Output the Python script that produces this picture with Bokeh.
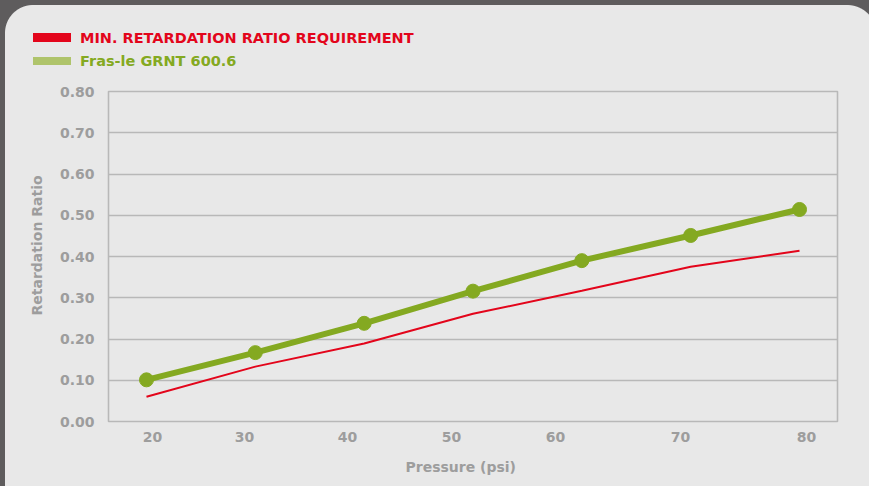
from bokeh.plotting import figure
from bokeh.layouts import column
from bokeh.embed import file_html
from bokeh.resources import INLINE
from bokeh.models import (Range1d, FixedTicker, NumeralTickFormatter, Title, Div,
                          GlobalInlineStyleSheet)

# ---- data ----
pressure = [20, 30, 40, 50, 60, 70, 80]
min_requirement = [0.060, 0.133, 0.189, 0.261, 0.317, 0.375, 0.414]
fras_le = [0.101, 0.167, 0.238, 0.316, 0.390, 0.451, 0.514]
x_tick_labels = ["20", "30", "40", "50", "60", "70", "80"]
y_ticks = [0.0, 0.1, 0.2, 0.3, 0.4, 0.5, 0.6, 0.7, 0.8]
series_names = ["MIN. RETARDATION RATIO REQUIREMENT", "Fras-le GRNT 600.6"]
x_title = "Pressure (psi)"
y_title = "Retardation Ratio"

# ---- style ----
DARK = "#5e5c5d"
LIGHT = "#e8e8e8"
RED = "#e3051b"
GREEN = "#84a921"
GREEN_LIGHT = "#afc46b"
GREY_TXT = "#9d9d9d"
GRID = "#b8b8b8"
FONT = "DejaVu Sans"

# label positions along x (as drawn in the original graphic)
x_tick_pos = [20.55, 29.0, 38.47, 48.03, 57.58, 69.07, 80.64]

css = f"""
body {{
  background:
    radial-gradient(circle at 28px 28px, transparent 27.5px, {DARK} 28.5px) 5px 5px / 28px 28px no-repeat,
    radial-gradient(circle at 0px 30px, transparent 29.5px, {DARK} 30.5px) 847px 5px / 30px 30px no-repeat,
    linear-gradient({DARK} 5px, transparent 5px) 0 0 / 100% 100% no-repeat,
    linear-gradient(to right, {DARK} 5px, {LIGHT} 5px) 0 0 / 100% 100% no-repeat;
}}
"""

# ---------- legend strip ----------
LEG_H = 80
legend_rows = [(series_names[0], RED, RED, 33, 9, 29),
               (series_names[1], GREEN, GREEN_LIGHT, 57, 8, 52)]
parts = []
for name, txt_col, sw_col, sw_top, sw_h, txt_top in legend_rows:
    parts.append(f'<div style="position:absolute;left:33px;top:{sw_top}px;width:38px;'
                 f'height:{sw_h}px;background:{sw_col};"></div>')
    parts.append(f'<div style="position:absolute;left:80px;top:{txt_top}px;line-height:19px;'
                 f'white-space:nowrap;color:{txt_col};">{name}</div>')
legend_html = (f'<div style="position:relative;width:869px;height:{LEG_H}px;'
               f"font-family:'{FONT}';font-weight:bold;font-size:14.5px;\">"
               + "".join(parts) + "</div>")
leg = Div(text=legend_html, width=869, height=LEG_H, margin=0,
          stylesheets=[GlobalInlineStyleSheet(css=css)])

# ---------- main chart ----------
p = figure(width=869, height=486 - LEG_H, output_backend="svg", toolbar_location=None,
           x_range=Range1d(16.51, 83.49), y_range=Range1d(0, 0.8),
           min_border_left=108, min_border_right=32, min_border_top=91 - LEG_H,
           min_border_bottom=486 - 421, margin=0)
p.border_fill_color = None
p.background_fill_color = LIGHT
p.outline_line_color = GRID
p.outline_line_width = 1.6

p.xgrid.grid_line_color = None
p.ygrid.grid_line_color = GRID
p.ygrid.grid_line_width = 1.6

p.yaxis.ticker = FixedTicker(ticks=y_ticks)
p.yaxis.formatter = NumeralTickFormatter(format="0.00")
p.xaxis.ticker = FixedTicker(ticks=x_tick_pos)
p.xaxis.major_label_overrides = {t: l for t, l in zip(x_tick_pos, x_tick_labels)}
for ax in (p.xaxis, p.yaxis):
    ax.axis_line_color = None
    ax.major_tick_line_color = None
    ax.minor_tick_line_color = None
    ax.major_tick_out = 0
    ax.major_tick_in = 0
    ax.major_label_text_font = FONT
    ax.major_label_text_font_style = "bold"
    ax.major_label_text_font_size = "14px"
    ax.major_label_text_color = GREY_TXT
p.yaxis.major_label_standoff = 14
p.xaxis.major_label_standoff = 10

p.line(pressure, min_requirement, line_color=RED, line_width=2)
p.line(pressure, fras_le, line_color=GREEN, line_width=6)
p.scatter(pressure, fras_le, size=14, fill_color=GREEN, line_color=GREEN)

p.add_layout(Title(text=x_title, align="left", offset=297, standoff=24,
                   text_font=FONT, text_font_style="bold", text_font_size="14px",
                   text_color=GREY_TXT), "below")
p.add_layout(Title(text=y_title, align="left", offset=106, standoff=24,
                   text_font=FONT, text_font_style="bold", text_font_size="14px",
                   text_color=GREY_TXT), "left")

layout = column(leg, p, spacing=0, margin=0)
open("out.html", "w").write(file_html(layout, INLINE))
